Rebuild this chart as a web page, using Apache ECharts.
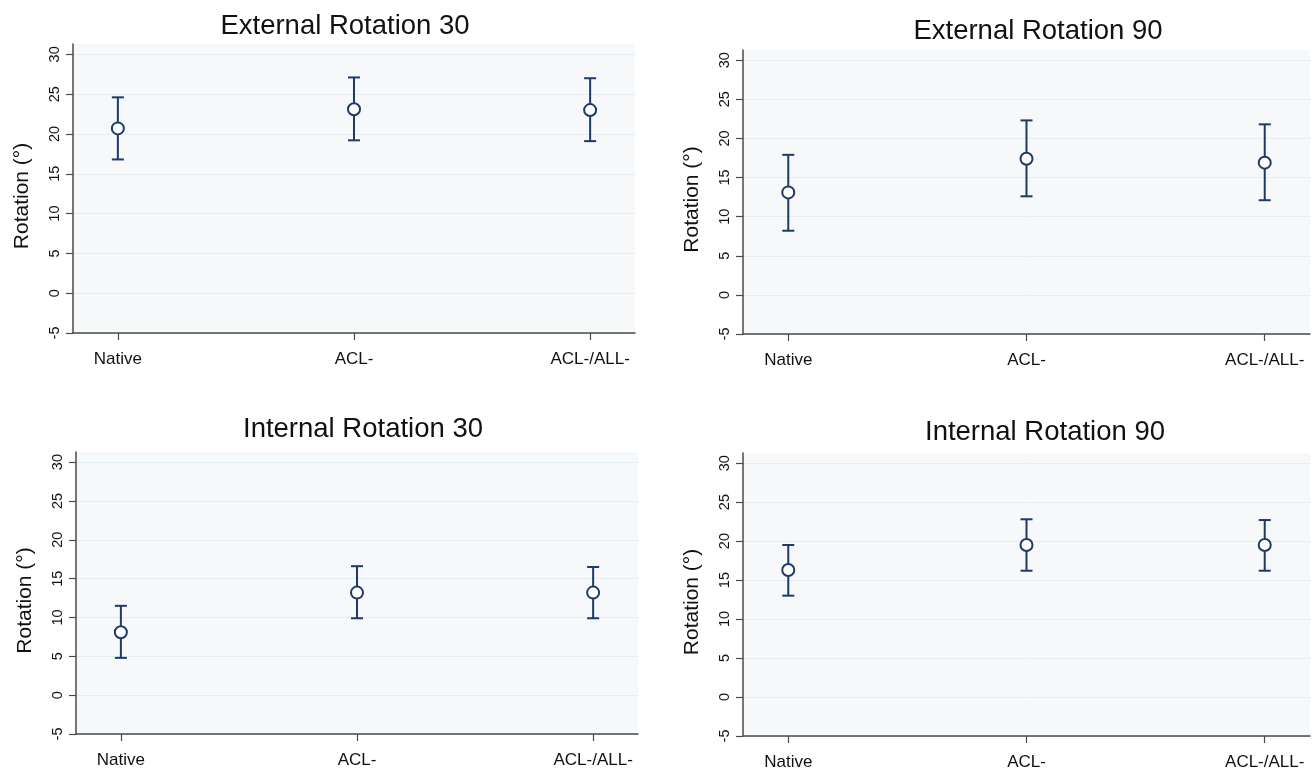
<!DOCTYPE html>
<html>
<head>
<meta charset="utf-8">
<script src="https://cdn.jsdelivr.net/npm/echarts@6/dist/echarts.min.js"></script>
<style>
html,body{margin:0;padding:0;background:#fff;}
#chart{width:1313px;height:771px;}
</style>
</head>
<body>
<div id="chart"></div>
<script>
// ---- data ----
const categories = ['Native', 'ACL-', 'ACL-/ALL-'];
const yTicks = [-5, 0, 5, 10, 15, 20, 25, 30];
const panelTitles = ['External Rotation 30', 'External Rotation 90', 'Internal Rotation 30', 'Internal Rotation 90'];
// mean values
const er30Mean = [20.7, 23.1, 23.0];
const er90Mean = [13.1, 17.4, 16.9];
const ir30Mean = [8.1, 13.2, 13.2];
const ir90Mean = [16.3, 19.5, 19.5];
// lower CI
const er30Low = [16.8, 19.2, 19.1];
const er90Low = [8.2, 12.6, 12.1];
const ir30Low = [4.8, 9.9, 9.9];
const ir90Low = [13.0, 16.2, 16.2];
// upper CI
const er30High = [24.6, 27.1, 27.0];
const er90High = [17.9, 22.3, 21.8];
const ir30High = [11.5, 16.6, 16.5];
const ir90High = [19.5, 22.8, 22.7];

const means = [er30Mean, er90Mean, ir30Mean, ir90Mean];
const lows = [er30Low, er90Low, ir30Low, ir90Low];
const highs = [er30High, er90High, ir30High, ir90High];

// ---- layout ----
const grids = [
  {left: 73, top: 44, width: 562, height: 289},
  {left: 743, top: 50, width: 567, height: 284},
  {left: 76, top: 452, width: 562, height: 282},
  {left: 743, top: 453, width: 567, height: 283}
];
const titlePos = [[340, 21], [1033, 26], [358, 424], [1040, 427]];
const NAVY = '#1d3a68';
const AXIS = '#4a4a4a';

const chart = echarts.init(document.getElementById('chart'));
const option = {
  animation: false,
  backgroundColor: '#ffffff',
  textStyle: {fontFamily: 'Liberation Sans, Arial, sans-serif'},
  title: panelTitles.map((t, i) => ({
    text: t, left: titlePos[i][0], top: titlePos[i][1],
    textAlign: 'center', textVerticalAlign: 'middle',
    textStyle: {fontSize: 27.5, fontWeight: 'normal', color: '#111', fontFamily: 'Liberation Sans, Arial, sans-serif'}
  })),
  grid: grids.map(g => Object.assign({show: true, backgroundColor: '#f6f8f9', borderWidth: 0}, g)),
  xAxis: grids.map((g, i) => ({
    type: 'value', gridIndex: i, min: 0.81, max: 3.19,
    axisLine: {show: true, onZero: false, lineStyle: {color: AXIS, width: 1.5}},
    axisTick: {show: true, length: 7, lineStyle: {color: AXIS, width: 1.2}, customValues: [1, 2, 3]},
    axisLabel: {
      customValues: [1, 2, 3], margin: 18, fontSize: 17, color: '#111',
      formatter: v => categories[Math.round(v) - 1] || ''
    },
    splitLine: {show: false}
  })),
  yAxis: grids.map((g, i) => ({
    type: 'value', gridIndex: i, min: -5, max: 31.3, interval: 5,
    name: 'Rotation (°)', nameLocation: 'middle', nameGap: 40,
    nameTextStyle: {fontSize: 21, color: '#111', padding: [0, 15, 0, 0]},
    axisLine: {show: true, onZero: false, lineStyle: {color: AXIS, width: 1.5}},
    axisTick: {show: true, length: 7, lineStyle: {color: AXIS, width: 1.2}, customValues: yTicks},
    axisLabel: {customValues: yTicks, rotate: 90, margin: 11, fontSize: 14.5, color: '#111'},
    splitLine: {show: true, lineStyle: {color: '#e4edf1', width: 1}}
  })),
  series: []
};

means.forEach((m, i) => {
  option.series.push({
    type: 'custom', xAxisIndex: i, yAxisIndex: i,
    data: categories.map((c, k) => [k + 1, lows[i][k], highs[i][k]]),
    renderItem: (params, api) => {
      const x = api.value(0);
      const lo = api.coord([x, api.value(1)]);
      const hi = api.coord([x, api.value(2)]);
      const hw = 6;
      const style = {stroke: NAVY, lineWidth: 2};
      return {
        type: 'group',
        children: [
          {type: 'line', shape: {x1: lo[0], y1: lo[1], x2: hi[0], y2: hi[1]}, style},
          {type: 'line', shape: {x1: lo[0] - hw, y1: lo[1], x2: lo[0] + hw, y2: lo[1]}, style},
          {type: 'line', shape: {x1: hi[0] - hw, y1: hi[1], x2: hi[0] + hw, y2: hi[1]}, style}
        ]
      };
    },
    z: 2
  });
  option.series.push({
    type: 'scatter', xAxisIndex: i, yAxisIndex: i,
    data: categories.map((c, k) => [k + 1, m[k]]),
    symbol: 'circle', symbolSize: 12,
    itemStyle: {color: '#ffffff', borderColor: NAVY, borderWidth: 2, opacity: 1},
    z: 3
  });
});

chart.setOption(option);
</script>
</body>
</html>
